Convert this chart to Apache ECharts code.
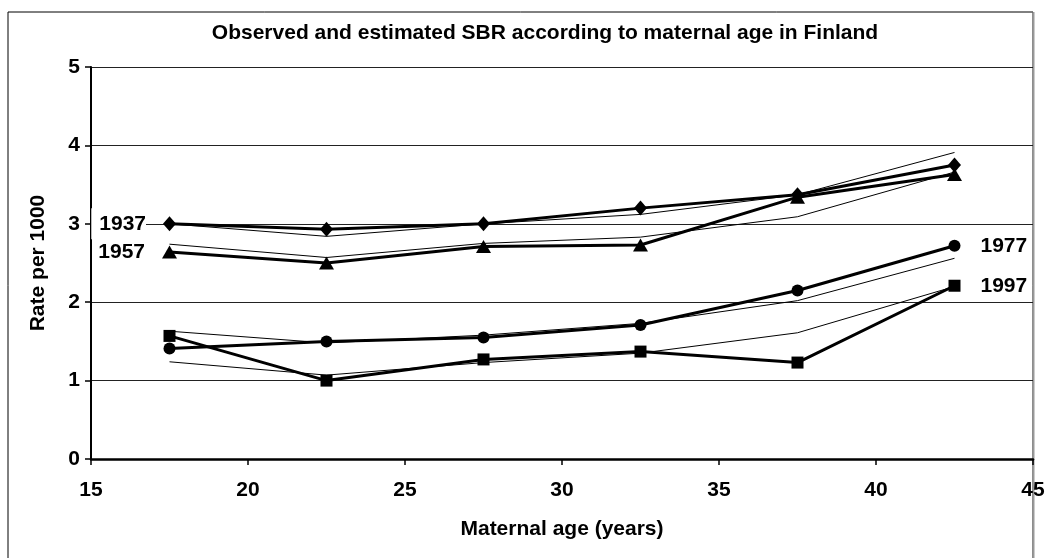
<!DOCTYPE html>
<html>
<head>
<meta charset="utf-8">
<script src="https://cdn.jsdelivr.net/npm/echarts@6/dist/echarts.min.js"></script>
<style>
  html, body { margin: 0; padding: 0; background: #fff; }
  #sbr_chart { width: 1048px; height: 558px; }
</style>
</head>
<body>
<div id="sbr_chart"></div>
<script>
// Maternal age groups (class midpoints)
var ages = [17.5, 22.5, 27.5, 32.5, 37.5, 42.5];

// Observed SBR per 1000
var obs1937 = [3.00, 2.93, 3.00, 3.20, 3.37, 3.75];
var obs1957 = [2.64, 2.50, 2.71, 2.73, 3.34, 3.63];
var obs1977 = [1.41, 1.50, 1.55, 1.71, 2.15, 2.72];
var obs1997 = [1.57, 1.00, 1.27, 1.37, 1.23, 2.21];

// Estimated SBR per 1000
var est1937 = [3.00, 2.84, 3.00, 3.12, 3.37, 3.91];
var est1957 = [2.74, 2.57, 2.75, 2.83, 3.09, 3.66];
var est1977 = [1.63, 1.48, 1.58, 1.73, 2.02, 2.56];
var est1997 = [1.24, 1.07, 1.23, 1.35, 1.61, 2.20];

// Axis ticks
var xTicks = [15, 20, 25, 30, 35, 40, 45];
var yTicks = [0, 1, 2, 3, 4, 5];

var fontBold = {
    fontFamily: '"Liberation Sans", Arial, sans-serif',
    fontWeight: 'bold',
    color: '#000'
};

// Build [x, y] pairs, optionally with a year label on one point
var pairs = function(values, year, labelIndex, side, boxed) {
    return ages.map(function(x, i) {
        var item = { value: [x, values[i]] };
        if (year && i === labelIndex) {
            item.label = {
                show: true,
                formatter: year,
                position: side,
                distance: side === 'left' ? 17 : 20,
                fontFamily: fontBold.fontFamily,
                fontWeight: 'bold',
                fontSize: 21,
                color: '#000',
                backgroundColor: boxed ? '#fff' : 'transparent',
                padding: boxed ? [5, 0, 5, 8] : 0
            };
        }
        return item;
    });
};

var observed = function(values, symbol, size, year, labelIndex, side, boxed) {
    return {
        type: 'line',
        data: pairs(values, year, labelIndex, side, boxed),
        symbol: symbol,
        symbolSize: size,
        showSymbol: true,
        lineStyle: { color: '#000', width: 3 },
        itemStyle: { color: '#000' },
        z: 5,
        animation: false
    };
};

var estimated = function(values) {
    return {
        type: 'line',
        data: pairs(values),
        symbol: 'none',
        lineStyle: { color: '#000', width: 1 },
        z: 3,
        animation: false
    };
};

var option = {
    backgroundColor: '#fff',
    animation: false,

    // Outer frame and right border of the plot
    graphic: [{
        type: 'rect',
        shape: { x: 8, y: 12, width: 1025, height: 560 },
        style: { fill: 'none', stroke: '#000', lineWidth: 1 },
        silent: true
    }, {
        type: 'line',
        shape: { x1: 1033.5, y1: 12, x2: 1033.5, y2: 558 },
        style: { stroke: '#999', lineWidth: 2 },
        silent: true
    }],

    title: {
        text: 'Observed and estimated SBR according to maternal age in Finland',
        left: 540,
        top: 18,
        textAlign: 'center',
        textStyle: Object.assign({ fontSize: 21 }, fontBold)
    },

    // Setup grid
    grid: {
        left: 91,
        right: 15,
        top: 67,
        bottom: 99,
        containLabel: false
    },

    // Horizontal axis
    xAxis: {
        type: 'value',
        min: xTicks[0],
        max: xTicks[xTicks.length - 1],
        interval: 5,
        name: 'Maternal age (years)',
        nameLocation: 'middle',
        nameGap: 60,
        nameTextStyle: Object.assign({ fontSize: 21 }, fontBold),
        axisLine: { lineStyle: { color: '#000', width: 2.5 } },
        axisTick: { show: true, length: 6, lineStyle: { color: '#000', width: 1.5 } },
        axisLabel: Object.assign({ fontSize: 21, margin: 21 }, fontBold),
        splitLine: { show: false }
    },

    // Vertical axis
    yAxis: {
        type: 'value',
        min: yTicks[0],
        max: yTicks[yTicks.length - 1],
        interval: 1,
        name: 'Rate per 1000',
        nameLocation: 'middle',
        nameGap: 42,
        nameRotate: 90,
        nameTextStyle: Object.assign({ fontSize: 21 }, fontBold),
        axisLine: { show: true, lineStyle: { color: '#000', width: 2 } },
        axisTick: { show: true, length: 6, lineStyle: { color: '#000', width: 1.5 } },
        axisLabel: Object.assign({ fontSize: 21, margin: 11 }, fontBold),
        splitLine: { show: true, lineStyle: { color: '#222', width: 1 } }
    },

    // Add series
    series: [
        estimated(est1937),
        estimated(est1957),
        estimated(est1977),
        estimated(est1997),
        observed(obs1937, 'diamond', [13, 15], '1937', 0, 'left', true),
        observed(obs1957, 'triangle', [15, 13], '1957', 0, 'left'),
        observed(obs1977, 'circle', 12, '1977', 5, 'right'),
        observed(obs1997, 'rect', 12, '1997', 5, 'right')
    ]
};

document.addEventListener('DOMContentLoaded', function() {
    var sbr_chart = echarts.init(document.getElementById('sbr_chart'));
    sbr_chart.setOption(option);
});
</script>
</body>
</html>
